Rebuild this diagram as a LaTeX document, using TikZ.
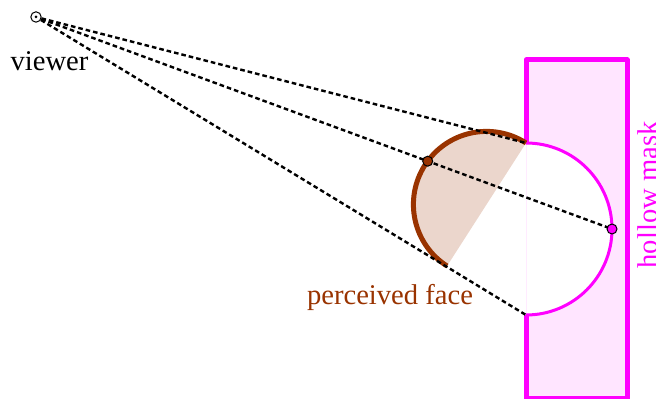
\documentclass[tikz,border=0pt]{standalone}
\usepackage{fontspec}
\setmainfont{Liberation Serif}
\definecolor{maskpink}{RGB}{255,0,255}
\definecolor{facebrown}{RGB}{153,51,0}
\begin{document}
\begin{tikzpicture}[x=0.5pt,y=-0.5pt,
  sight/.style={black, line width=1.2pt, dash pattern=on 2.3pt off 1.5pt},
  lbl/.style={font=\fontsize{14.3}{17}\selectfont, inner sep=0pt},
  dotmark/.style={circle, draw=black, line width=0.5pt, inner sep=0pt, minimum size=5pt}]
\useasboundingbox (0,0) rectangle (656,399);
% named points
\coordinate (T) at (526,143);
\coordinate (B) at (526,315);
\coordinate (R) at (612,229);
% hollow mask
\fill[maskpink!10] (T) -- (526,60) -- (627,60) -- (627,398) -- (526,398) -- (B)
  arc[start angle=90,end angle=-90,radius=86] -- cycle;
\draw[maskpink!8, line width=0.3pt] (T) -- (B);
\draw[maskpink, line width=2.5pt, line join=round] (T) -- (526,60) -- (627,60) -- (627,398) -- (526,398) -- (B);
\draw[maskpink, line width=1.5pt] (B) arc[start angle=90,end angle=-90,radius=86];
% perceived face
\fill[facebrown!20] (T) arc[start angle=-57.3,end angle=-237.3,radius=73.1] -- cycle;
\draw[facebrown, line width=2.5pt] (T) arc[start angle=-57.3,end angle=-237.3,radius=73.1];
% viewer
\node[circle, draw=black, line width=0.5pt, inner sep=0pt, minimum size=5.2pt] (V) at (36,17) {};
\fill (V.center) circle[radius=1.5];
% sight lines
\draw[sight] (V) -- (T);
\draw[sight] (V) -- (R);
\draw[sight] (V) -- (B);
% marks
\node[dotmark, fill=facebrown] (P) at (427.7,161.2) {};
\node[dotmark, fill=maskpink] (Q) at (R) {};
% labels
\node[lbl, text=black, anchor=base] (vl) at (49.5,71) {viewer};
\node[lbl, text=facebrown, anchor=base] (pl) at (390,305) {perceived face};
\node[lbl, text=maskpink, rotate=90, anchor=base] (ml) at (657,195) {hollow mask};
\end{tikzpicture}
\end{document}
